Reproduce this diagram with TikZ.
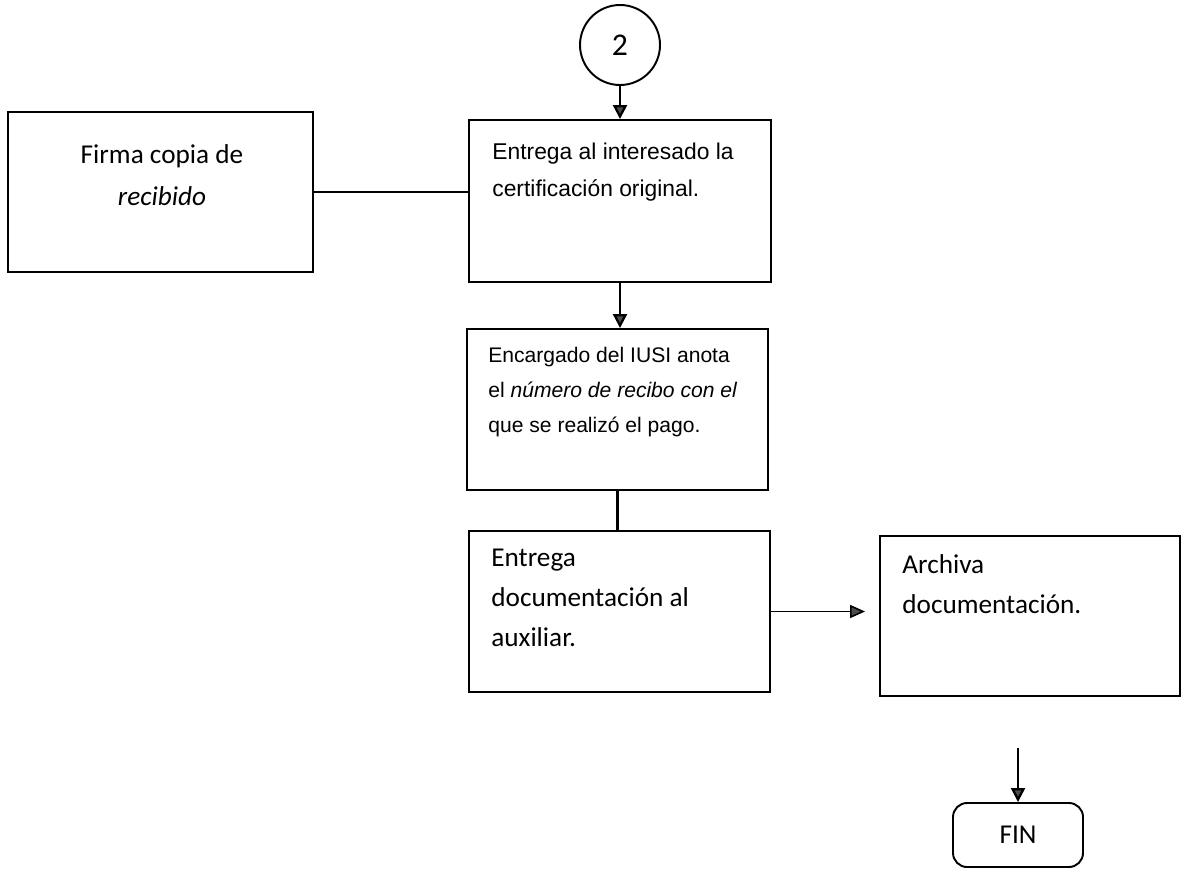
\documentclass[tikz,border=0pt]{standalone}
\usepackage{fontspec}
\setmainfont{Carlito}
\newfontfamily\arialfont{Liberation Sans}
\usetikzlibrary{positioning}
\usetikzlibrary{shapes.geometric,shapes.misc, arrows.meta,positioning, fit, backgrounds}
\usetikzlibrary{arrows.meta}

\tikzset{
    box/.style={draw, line width=1.1pt, rectangle, minimum width=6.02cm, minimum height=3.22cm, inner sep=0pt},
    boxtext/.style={anchor=north west, inner sep=0pt, align=left, font=\fontsize{15.5}{22.7}\selectfont},
    ariatext/.style={anchor=north west, inner sep=0pt, align=left},
    flecha/.style={line width=1.3pt, -{Triangle[length=0.28cm, width=0.28cm, fill=black!70]}},
    linea/.style={line width=0.9pt}
}

\begin{document}
\begin{tikzpicture}
        \useasboundingbox (0,0) rectangle (23.62,-17.38);

        \node (c2)[draw, circle, line width=1.1pt, minimum size=1.6cm, font=\fontsize{18}{20}\selectfont] at (12.4,-0.9) {2};
        \node (b1)[box, minimum width=6.04cm, minimum height=3.24cm] at (12.4,-4.02) {};
        \node (firma)[box, minimum width=6.1cm, minimum height=3.2cm] at (3.21,-3.84) {};
        \node (b2)[box] at (12.35,-8.19) {};
        \node (b3)[box] at (12.39,-12.23) {};
        \node (b4)[box, minimum width=6.0cm, minimum height=3.2cm] at (20.6,-12.32) {};
        \node (fin)[draw, rectangle, rounded corners=8pt, line width=1.1pt, minimum width=2.6cm, minimum height=1.28cm, font=\fontsize{15.5}{18}\selectfont] at (20.36,-16.7) {FIN};
        \coordinate (finin) at (20.36,-14.96);

        % textos
        \node (t1)[ariatext, font=\arialfont\fontsize{13}{21}\selectfont] at (9.84,-2.86) {Entrega al interesado la\\certificación original.};
        \node (t2)[ariatext, font=\arialfont\fontsize{12}{19.9}\selectfont] at (9.76,-6.94) {Encargado del IUSI anota\\el \textit{número de recibo con el}\\que se realizó el pago.};
        \node (t3)[boxtext] at (9.82,-10.98) {Entrega\\documentación al\\auxiliar.};
        \node (t4)[boxtext] at (18.04,-11.08) {Archiva\\documentación.};
        \node (tf)[boxtext, anchor=north, align=center, font=\fontsize{15.5}{23.8}\selectfont] at (3.24,-2.88) {Firma copia de\\\textit{recibido}};

        \draw [flecha] (c2) -- (b1);
        \draw [flecha] (b1.south) -- (b1.south |- b2.north);
        \draw [line width=1.3pt] (b2.south) -- (b2.south |- b3.north);
        \draw [linea] (firma.east) -- (firma.east -| b1.west);
        \draw [linea, -{Triangle[length=0.3cm, width=0.26cm, fill=black!70]}, shorten >=0.28cm] (b3.east) -- (b3.east -| b4.west);
        \draw [flecha] (finin) -- (fin.north);

    \end{tikzpicture}
\end{document}
